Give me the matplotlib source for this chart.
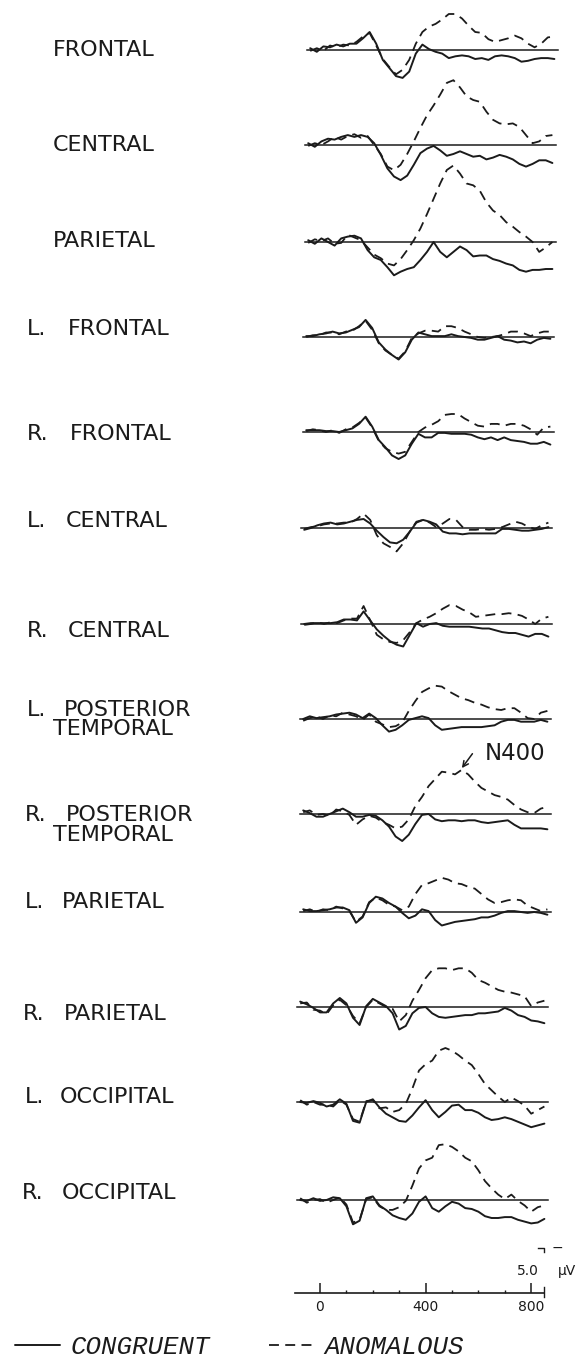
import matplotlib
matplotlib.use("Agg")
import matplotlib.pyplot as plt

# ---------------- data (µV, negative plotted up) ----------------
times_ms = list(range(-75, 851, 25))  # sample times of the traces (38 samples)

sites = ["FRONTAL", "CENTRAL", "PARIETAL", "L. FRONTAL", "R. FRONTAL",
         "L. CENTRAL", "R. CENTRAL", "L. POSTERIOR TEMPORAL",
         "R. POSTERIOR TEMPORAL", "L. PARIETAL", "R. PARIETAL",
         "L. OCCIPITAL", "R. OCCIPITAL"]

congruent_frontal = [-0.2, 0.2, -0.4, -0.3, -0.6, -0.4, -0.7, -0.7, -1.3, -2.0, -0.7, 1.1, 2.0, 2.9, 3.1, 2.4, 0.4, -0.6, -0.1, 0.2, 0.4, 0.9, 0.7, 0.6, 0.7, 1.0, 0.9, 1.1, 0.7, 0.6, 0.7, 0.9, 1.3, 1.2, 1.0, 0.9, 0.9, 1.0]
anomalous_frontal = [0.1, -0.2, 0.1, -0.5, -0.3, -0.6, -0.5, -0.9, -1.5, -1.9, -0.5, 1.0, 1.9, 2.7, 2.2, 1.1, -0.7, -2.0, -2.6, -2.9, -3.4, -4.0, -4.0, -3.5, -2.7, -2.0, -1.9, -1.2, -0.9, -1.1, -1.3, -1.6, -1.3, -0.7, -0.3, -0.7, -1.4, -1.5]

congruent_central = [-0.2, 0.2, -0.4, -0.7, -0.6, -0.9, -1.1, -0.9, -1.1, -0.9, -0.2, 1.1, 2.6, 3.5, 3.9, 3.4, 2.2, 0.9, 0.4, 0.1, 0.6, 1.2, 1.0, 0.7, 1.0, 1.3, 1.2, 1.6, 1.4, 1.1, 1.3, 1.6, 2.1, 2.4, 2.1, 1.7, 1.7, 2.0]
anomalous_central = [0.1, -0.2, 0.0, -0.4, -0.9, -0.6, -1.0, -1.2, -0.8, -1.0, 0.0, 1.0, 2.4, 2.8, 2.2, 1.0, -0.4, -1.9, -3.3, -4.4, -5.6, -6.9, -7.2, -6.4, -5.4, -5.0, -4.8, -3.7, -2.8, -2.4, -2.3, -2.4, -2.0, -1.1, -0.2, -0.4, -1.0, -1.1]

congruent_parietal = [-0.2, 0.2, -0.4, 0.0, 0.4, -0.4, -0.6, -0.7, -0.4, 0.9, 1.7, 2.0, 2.8, 3.7, 3.3, 3.0, 2.8, 2.0, 1.1, 0.0, 1.1, 1.7, 1.1, 0.5, 0.9, 1.6, 1.5, 1.5, 1.9, 2.1, 2.4, 2.6, 3.1, 3.3, 3.1, 3.1, 3.0, 3.0]
anomalous_parietal = [0.1, -0.3, -0.1, -0.4, 0.2, 0.1, -0.8, -0.5, -0.2, 0.6, 1.4, 1.8, 2.4, 2.6, 1.9, 0.9, -0.2, -1.5, -3.1, -4.8, -6.5, -8.0, -8.5, -7.6, -6.5, -6.3, -5.7, -4.4, -3.5, -3.0, -2.2, -1.7, -1.1, -0.6, 0.0, 1.1, 0.6, 0.0]

congruent_l_frontal = [-0.1, -0.1, -0.3, -0.4, -0.6, -0.4, -0.5, -0.8, -1.1, -1.9, -1.0, 0.6, 1.4, 2.0, 2.5, 1.7, 0.3, -0.5, -0.3, -0.1, -0.1, -0.1, -0.3, -0.1, 0.0, 0.1, 0.3, 0.3, 0.1, -0.1, 0.3, 0.4, 0.6, 0.5, 0.7, 0.3, 0.1, 0.2]
anomalous_l_frontal = [0.0, -0.2, -0.2, -0.5, -0.5, -0.3, -0.6, -0.7, -1.2, -1.8, -0.8, 0.7, 1.5, 2.0, 2.4, 1.6, 0.1, -0.4, -0.7, -0.7, -0.6, -1.2, -1.2, -1.0, -0.6, -0.3, 0.0, 0.1, 0.0, -0.1, -0.3, -0.6, -0.6, -0.4, -0.1, -0.4, -0.6, -0.6]

congruent_r_frontal = [-0.2, -0.2, -0.2, -0.1, -0.1, 0.0, -0.2, -0.4, -0.9, -1.7, -0.6, 0.9, 1.7, 2.6, 3.0, 2.6, 1.3, 0.2, 0.6, 0.6, 0.1, 0.1, 0.2, 0.2, 0.2, 0.3, 0.6, 0.8, 0.6, 0.9, 0.6, 0.9, 1.0, 1.1, 1.3, 1.3, 1.1, 1.4]
anomalous_r_frontal = [-0.1, -0.3, -0.2, 0.0, -0.2, 0.1, -0.3, -0.5, -1.0, -1.6, -0.5, 1.0, 1.8, 2.2, 2.4, 2.2, 1.1, 0.0, -0.5, -0.8, -1.2, -1.9, -2.0, -2.0, -1.5, -1.1, -0.7, -0.6, -0.9, -0.9, -0.7, -0.9, -0.9, -0.7, -0.3, 0.3, -0.5, -0.6]

congruent_l_central = [0.2, 0.0, -0.3, -0.5, -0.6, -0.4, -0.5, -0.7, -0.9, -1.0, -0.5, 0.3, 1.0, 1.6, 1.7, 1.3, 0.4, -0.6, -0.9, -0.7, -0.4, 0.4, 0.6, 0.6, 0.7, 0.6, 0.6, 0.6, 0.6, 0.6, 0.1, 0.1, 0.2, 0.3, 0.3, 0.2, 0.1, -0.1]
anomalous_l_central = [0.1, -0.1, -0.2, -0.4, -0.5, -0.5, -0.6, -0.6, -1.0, -1.6, -0.9, 0.8, 1.7, 2.1, 2.6, 1.7, 0.4, -0.7, -0.9, -0.6, -0.1, -0.5, -1.0, -0.9, -0.1, 0.2, 0.2, 0.1, 0.2, 0.1, -0.1, -0.4, -0.7, -0.5, -0.1, 0.1, -0.3, -0.6]

congruent_r_central = [0.0, -0.1, -0.1, -0.1, -0.1, -0.2, -0.5, -0.5, -0.4, -1.4, -0.4, 0.6, 1.3, 1.9, 2.3, 2.5, 1.2, -0.1, 0.3, 0.0, -0.1, 0.2, 0.3, 0.3, 0.3, 0.3, 0.4, 0.5, 0.5, 0.7, 0.9, 1.0, 1.0, 1.2, 1.4, 1.1, 1.1, 1.4]
anomalous_r_central = [0.1, 0.0, -0.2, 0.0, -0.2, -0.1, -0.4, -0.6, -0.6, -2.0, -0.4, 1.2, 1.7, 2.0, 2.1, 1.8, 0.9, -0.1, -0.5, -0.8, -1.2, -1.7, -2.1, -2.0, -1.6, -1.3, -0.8, -0.9, -1.0, -1.1, -1.1, -1.2, -1.1, -0.9, -0.5, 0.0, -0.6, -0.8]

congruent_l_post_temporal = [0.0, -0.3, -0.1, -0.2, -0.3, -0.5, -0.6, -0.7, -0.5, -0.1, -0.6, -0.1, 0.7, 1.4, 1.2, 0.7, 0.1, -0.1, -0.3, -0.1, 0.7, 1.2, 1.1, 1.0, 0.9, 0.9, 0.9, 0.9, 0.8, 0.7, 0.3, 0.1, 0.1, 0.3, 0.3, 0.3, 0.1, 0.3]
anomalous_l_post_temporal = [0.2, -0.1, -0.3, 0.0, -0.4, -0.3, -0.7, -0.5, -0.3, 0.1, -0.5, 0.3, 0.6, 0.9, 0.8, 0.4, -0.9, -2.0, -3.0, -3.4, -3.7, -3.6, -3.1, -2.7, -2.3, -2.1, -1.8, -1.6, -1.3, -1.1, -1.0, -1.2, -1.2, -0.7, -0.1, 0.0, -0.7, -0.9]

congruent_r_post_temporal = [-0.4, -0.1, 0.3, 0.3, 0.0, -0.3, -0.6, -0.2, 0.3, 0.3, 0.1, 0.2, 0.7, 1.4, 2.5, 3.0, 2.3, 1.1, 0.1, 0.0, 0.6, 0.8, 0.7, 0.7, 0.8, 0.7, 0.7, 0.9, 1.0, 0.9, 0.8, 0.7, 1.2, 1.6, 1.6, 1.6, 1.6, 1.7]
anomalous_r_post_temporal = [-0.2, -0.4, 0.1, 0.0, 0.2, -0.5, -0.3, 0.1, 1.2, 0.6, 0.2, 0.4, 0.9, 1.2, 1.6, 1.4, 0.6, -0.9, -1.9, -3.1, -3.9, -4.7, -4.6, -4.4, -4.9, -4.4, -3.6, -2.9, -2.5, -2.1, -1.9, -1.6, -1.0, -0.5, -0.2, -0.1, -0.6, -0.8]

congruent_l_parietal = [-0.3, -0.1, -0.1, -0.2, -0.3, -0.5, -0.5, -0.2, 1.2, 0.6, -1.0, -1.7, -1.5, -1.0, -0.6, 0.1, 0.7, 0.4, -0.3, -0.1, 0.9, 1.5, 1.3, 1.1, 1.0, 0.9, 0.8, 0.6, 0.6, 0.4, 0.1, -0.1, -0.1, 0.0, 0.1, 0.0, 0.1, 0.3]
anomalous_l_parietal = [-0.1, -0.3, 0.0, -0.3, -0.2, -0.6, -0.4, -0.1, 1.1, 0.5, -1.1, -1.6, -1.3, -0.8, -0.6, -0.2, -0.6, -2.0, -3.0, -3.2, -3.5, -3.8, -3.6, -3.2, -3.1, -2.8, -2.6, -2.0, -1.4, -1.0, -1.1, -1.3, -1.4, -1.3, -0.7, -0.4, -0.1, -0.3]

congruent_r_parietal = [-0.6, -0.3, 0.1, 0.6, 0.6, -0.4, -1.0, -0.4, 1.2, 2.0, -0.1, -0.9, -0.5, -0.1, 0.7, 2.5, 2.1, 0.7, 0.1, 0.0, 0.7, 1.1, 1.2, 1.1, 1.0, 0.9, 0.9, 0.7, 0.7, 0.6, 0.5, 0.1, 0.4, 0.9, 1.1, 1.5, 1.6, 1.8]
anomalous_r_parietal = [-0.4, -0.5, 0.3, 0.4, 0.8, -0.2, -0.8, -0.2, 1.0, 1.8, 0.0, -0.8, -0.4, 0.0, 0.2, 1.6, 0.9, -0.7, -1.9, -3.2, -4.1, -4.3, -4.3, -4.1, -4.3, -4.3, -3.8, -3.0, -2.7, -2.3, -1.9, -1.7, -1.6, -1.4, -1.2, -0.1, -0.5, -0.7]

congruent_l_occipital = [0.0, 0.1, -0.1, 0.1, 0.5, 0.3, -0.3, 0.2, 2.1, 2.3, 0.0, -0.3, 0.6, 1.3, 1.7, 2.1, 2.2, 1.5, 0.6, -0.2, 0.9, 1.7, 1.1, 0.4, 0.3, 0.9, 0.9, 1.2, 1.7, 2.0, 1.9, 1.7, 1.9, 2.2, 2.5, 2.8, 2.6, 2.4]
anomalous_l_occipital = [-0.2, 0.3, 0.0, 0.3, 0.3, 0.5, -0.2, 0.3, 1.9, 2.2, -0.1, -0.2, 0.7, 0.6, 1.1, 0.9, 0.2, -1.5, -3.5, -4.2, -4.6, -5.7, -6.0, -5.7, -5.2, -4.6, -4.1, -3.1, -2.0, -1.3, -0.6, 0.0, -0.5, -0.1, 0.4, 1.3, 0.9, 0.5]

congruent_r_occipital = [0.0, 0.1, -0.2, 0.1, 0.0, -0.3, -0.2, 0.7, 2.7, 2.3, -0.2, -0.4, 0.6, 1.1, 1.7, 2.0, 2.2, 1.5, 0.2, -0.4, 0.9, 1.3, 0.7, 0.2, 0.4, 0.9, 1.0, 1.3, 1.8, 2.0, 2.0, 1.9, 1.9, 2.2, 2.4, 2.6, 2.5, 2.1]
anomalous_r_occipital = [-0.2, 0.3, 0.0, -0.1, 0.3, 0.0, -0.3, 0.5, 2.5, 2.2, -0.1, -0.3, 0.7, 1.1, 1.1, 0.8, 0.1, -1.6, -3.5, -4.4, -4.7, -6.1, -6.2, -5.9, -5.4, -4.7, -4.3, -3.3, -2.1, -1.3, -0.6, -0.1, -0.6, 0.1, 0.6, 1.3, 0.8, 0.6]

congruent = [congruent_frontal, congruent_central, congruent_parietal,
             congruent_l_frontal, congruent_r_frontal, congruent_l_central,
             congruent_r_central, congruent_l_post_temporal,
             congruent_r_post_temporal, congruent_l_parietal,
             congruent_r_parietal, congruent_l_occipital, congruent_r_occipital]
anomalous = [anomalous_frontal, anomalous_central, anomalous_parietal,
             anomalous_l_frontal, anomalous_r_frontal, anomalous_l_central,
             anomalous_r_central, anomalous_l_post_temporal,
             anomalous_r_post_temporal, anomalous_l_parietal,
             anomalous_r_parietal, anomalous_l_occipital, anomalous_r_occipital]

time_ticks = [0, 400, 800]
time_minor_ticks = [100, 200, 300, 500, 600, 700]
calibration_uv = 5.0
legend_labels = ["CONGRUENT", "ANOMALOUS"]
n400_label = "N400"

# ---------------- layout (pixels) ----------------
W, H = 579, 1363
INK = "#1b1b1b"
PX_PER_MS = 0.264
PX_PER_UV = 9.0
T0, T1 = -100, 900
V_TOP, V_BOT = -9.5, 5.5
ZERO_X = 320

row_baseline = [50, 145, 242, 337, 432, 528, 624, 719, 814, 912, 1007, 1102, 1200]
row_shift = [10, 8, 8, 6, 6, 4, 4, 3, 3, 3, 0, 0, 0]
# (prefix, prefix_x, word_x, label_y, second_line_y)
label_layout = [
    ("", 0, 53, 50, None),
    ("", 0, 53, 145, None),
    ("", 0, 53, 241, None),
    ("L.", 27, 68, 329, None),
    ("R.", 27, 70, 434, None),
    ("L.", 27, 66, 521, None),
    ("R.", 27, 68, 631, None),
    ("L.", 27, 64, 710, 729),
    ("R.", 25, 66, 815, 835),
    ("L.", 25, 62, 902, None),
    ("R.", 23, 64, 1014, None),
    ("L.", 25, 60, 1097, None),
    ("R.", 22, 62, 1193, None),
]

fig = plt.figure(figsize=(W / 100, H / 100), dpi=100)
fig.patch.set_facecolor("white")


def px_axes(left, top, width, height):
    return fig.add_axes([left / W, 1 - (top + height) / H, width / W, height / H])


def row_axes(baseline_px, shift_px):
    left = ZERO_X + shift_px + T0 * PX_PER_MS
    top = baseline_px + V_TOP * PX_PER_UV
    ax = px_axes(left, top, (T1 - T0) * PX_PER_MS, (V_BOT - V_TOP) * PX_PER_UV)
    ax.set_xlim(T0, T1)
    ax.set_ylim(V_BOT, V_TOP)
    ax.axis("off")
    ax.patch.set_alpha(0)
    return ax


LABEL_FS = 16
handles = None
for i, site in enumerate(sites):
    ax = row_axes(row_baseline[i], row_shift[i])
    ax.axhline(0, xmin=(-88 - T0) / (T1 - T0), xmax=(862 - T0) / (T1 - T0),
               color=INK, lw=1.1)
    l1, = ax.plot(times_ms, congruent[i], color=INK, lw=1.4,
                  solid_joinstyle="round", solid_capstyle="round")
    l2, = ax.plot(times_ms, anomalous[i], color=INK, lw=1.3,
                  linestyle=(0, (5.5, 3.5)), dash_capstyle="butt")
    if handles is None:
        handles = [l1, l2]

    prefix, px_, wx, ly, ly2 = label_layout[i]
    words = site.split(" ")
    if prefix:
        words = words[1:]
        fig.text(px_ / W, 1 - ly / H, prefix, fontsize=LABEL_FS, color=INK,
                 va="center", ha="left")
    if ly2 is None:
        fig.text(wx / W, 1 - ly / H, " ".join(words), fontsize=LABEL_FS,
                 color=INK, va="center", ha="left")
    else:
        fig.text(wx / W, 1 - ly / H, words[0], fontsize=LABEL_FS, color=INK,
                 va="center", ha="left")
        fig.text(53 / W, 1 - ly2 / H, words[1], fontsize=LABEL_FS, color=INK,
                 va="center", ha="left")

    if site == "R. POSTERIOR TEMPORAL":
        # short diagonal arrow pointing at the anomalous N400 peak
        ax.annotate("", xy=(526, -5.1), xytext=(566, -6.7),
                    arrowprops=dict(arrowstyle="->", color=INK, lw=1.1,
                                    shrinkA=0, shrinkB=0, mutation_scale=10))
        ax.text(612, -6.7, n400_label, fontsize=16.5, color=INK,
                ha="left", va="center")

# ---------------- time axis with calibration ----------------
AX_BOTTOM = 1293
axt = px_axes(ZERO_X + T0 * PX_PER_MS, AX_BOTTOM - 6 * PX_PER_UV,
              (T1 - T0) * PX_PER_MS, 6 * PX_PER_UV)
axt.set_xlim(T0, T1)
axt.set_ylim(0, -6)
axt.patch.set_alpha(0)
for s in ("left", "right", "top"):
    axt.spines[s].set_visible(False)
axt.spines["bottom"].set_bounds(-95, 848)
axt.spines["bottom"].set_linewidth(1.2)
axt.spines["bottom"].set_color(INK)
axt.set_yticks([])
axt.set_xticks(time_ticks)
axt.set_xticks(time_minor_ticks, minor=True)
axt.set_xticklabels([str(t) for t in time_ticks])
axt.tick_params(axis="x", which="major", direction="in", length=7.5, width=1.1,
                color=INK, labelsize=10, labelcolor=INK, pad=5)
axt.tick_params(axis="x", which="minor", direction="in", length=2.5, width=1.0,
                color=INK)

# calibration bar: 5 µV, negative up
CAL_T = 848
axt.plot([CAL_T - 22, CAL_T, CAL_T], [-calibration_uv, -calibration_uv, -calibration_uv + 0.45],
         color=INK, lw=1.0, clip_on=False)
axt.plot([CAL_T, CAL_T], [0.45, -0.65], color=INK, lw=1.0, clip_on=False)
axt.text(CAL_T + 52, -calibration_uv, "\u2212", fontsize=10, color=INK,
         ha="center", va="center", clip_on=False)
axt.text(CAL_T - 60, -calibration_uv / 2 + 0.05, "5.0", fontsize=10, color=INK,
         ha="center", va="center", clip_on=False)
axt.text(CAL_T + 88, -calibration_uv / 2 + 0.05, "\u00b5V", fontsize=10, color=INK,
         ha="center", va="center", clip_on=False)

# ---------------- legend ----------------
leg = fig.legend(handles, legend_labels, loc="center left",
                 bbox_to_anchor=(15 / W, 1 - 1347 / H), ncol=2, frameon=False,
                 borderpad=0, borderaxespad=0, handlelength=1.75,
                 handletextpad=0.4, columnspacing=2.3,
                 prop={"family": "Liberation Mono", "style": "italic", "size": 18.5})
for t in leg.get_texts():
    t.set_color(INK)

fig.savefig("out.png", dpi=100, facecolor="white")
